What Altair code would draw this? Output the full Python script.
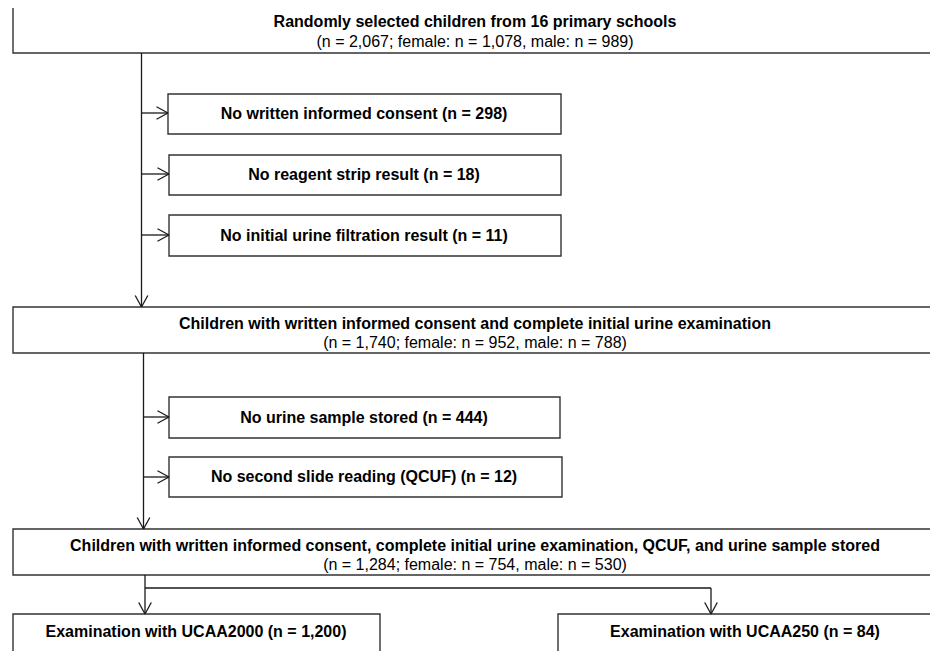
import altair as alt
import pandas as pd

# ---- content (text and counts) ----
main_titles = [
    "Randomly selected children from 16 primary schools",
    "Children with written informed consent and complete initial urine examination",
    "Children with written informed consent, complete initial urine examination, QCUF, and urine sample stored",
]
main_n = [2067, 1740, 1284]
main_female = [1078, 952, 754]
main_male = [989, 788, 530]

excl_labels = [
    "No written informed consent",
    "No reagent strip result",
    "No initial urine filtration result",
    "No urine sample stored",
    "No second slide reading (QCUF)",
]
excl_n = [298, 18, 11, 444, 12]

final_labels = ["Examination with UCAA2000", "Examination with UCAA250"]
final_n = [1200, 84]

# ---- layout (pixel positions of the flow-chart boxes) ----
main_x0, main_x1, main_tx = 13, 960, 475
main_y0 = [7, 307, 529]
main_y1 = [53, 353, 575]
main_title_y = [22, 324, 546]
main_sub_y = [42, 343, 565]

excl_x0 = [168, 169, 169, 169, 169]
excl_x1 = [561, 561, 561, 560, 562]
excl_y0 = [94, 155, 215, 397, 457]
excl_y1 = [134, 195, 256, 438, 497]
excl_tx = 364

final_x0 = [13, 558]
final_x1 = [380, 960]
final_y0 = [614, 614]
final_y1 = [700, 700]
final_tx = [196, 745]
final_ty = [632, 632]

# connector lines: (x, y, x2, y2)
lines = [
    (141.5, 53, 141.5, 307),
    (143.5, 353, 143.5, 529),
    (145, 575, 145, 614),
    (145, 588, 711, 588),
    (711, 588, 711, 614),
]
# horizontal arrows to exclusion boxes: (x_from, x_tip, y)
h_arrows = [
    (141.5, 168, 113),
    (141.5, 169, 174),
    (141.5, 169, 235),
    (143.5, 169, 417),
    (143.5, 169, 477),
]
# downward arrow tips: (x, y_tip)
v_tips = [(141.5, 307), (143.5, 529), (145, 614), (711, 614)]
head_len, head_half = 11.5, 6.3

# ---- build tables ----
boxes = []
for i in range(3):
    boxes.append(dict(x=main_x0, x2=main_x1, y=main_y0[i], y2=main_y1[i]))
for i in range(5):
    boxes.append(dict(x=excl_x0[i], x2=excl_x1[i], y=excl_y0[i], y2=excl_y1[i]))
for i in range(2):
    boxes.append(dict(x=final_x0[i], x2=final_x1[i], y=final_y0[i], y2=final_y1[i]))
boxes = pd.DataFrame(boxes)

segs = [dict(x=a, y=b, x2=c, y2=d) for a, b, c, d in lines]
for x0, xt, y in h_arrows:
    segs.append(dict(x=x0, y=y, x2=xt, y2=y))
    segs.append(dict(x=xt - head_len, y=y - head_half, x2=xt, y2=y))
    segs.append(dict(x=xt - head_len, y=y + head_half, x2=xt, y2=y))
for x, yt in v_tips:
    segs.append(dict(x=x - head_half, y=yt - head_len, x2=x, y2=yt))
    segs.append(dict(x=x + head_half, y=yt - head_len, x2=x, y2=yt))
segs = pd.DataFrame(segs)

bold_text = []
for i in range(3):
    bold_text.append(dict(x=main_tx, y=main_title_y[i], t=main_titles[i]))
for i in range(5):
    bold_text.append(dict(x=excl_tx, y=(excl_y0[i] + excl_y1[i]) / 2, t=f"{excl_labels[i]} (n = {excl_n[i]:,})"))
for i in range(2):
    bold_text.append(dict(x=final_tx[i], y=final_ty[i], t=f"{final_labels[i]} (n = {final_n[i]:,})"))
bold_text = pd.DataFrame(bold_text)

reg_text = pd.DataFrame([
    dict(x=main_tx, y=main_sub_y[i],
         t=f"(n = {main_n[i]:,}; female: n = {main_female[i]:,}, male: n = {main_male[i]:,})")
    for i in range(3)
])

W, H = 922, 643
xs = alt.Scale(domain=[8, 8 + W])
ys = alt.Scale(domain=[8, 8 + H], reverse=True)
X = lambda f: alt.X(f, type="quantitative", scale=xs, axis=None)
Y = lambda f: alt.Y(f, type="quantitative", scale=ys, axis=None)

ink = "#1a1a1a"

rects = alt.Chart(boxes).mark_rect(fill="white", stroke="#333333", strokeWidth=1.4).encode(
    x=X("x"), x2="x2", y=Y("y"), y2="y2"
)
rules = alt.Chart(segs).mark_rule(color=ink, strokeWidth=1.3).encode(
    x=X("x"), x2="x2", y=Y("y"), y2="y2"
)
btext = alt.Chart(bold_text).mark_text(
    font="Liberation Sans", fontWeight="bold", fontSize=16, color="black",
    align="center", baseline="middle"
).encode(x=X("x"), y=Y("y"), text="t:N")
rtext = alt.Chart(reg_text).mark_text(
    font="Liberation Sans", fontSize=16, color="black",
    align="center", baseline="middle"
).encode(x=X("x"), y=Y("y"), text="t:N")

chart = alt.layer(rects, rules, btext, rtext).properties(
    width=W, height=H, padding=0, autosize=alt.AutoSizeParams(type="none")
).configure_view(stroke=None)

chart.save("out.html", embed_options={"renderer": "svg", "actions": False})
